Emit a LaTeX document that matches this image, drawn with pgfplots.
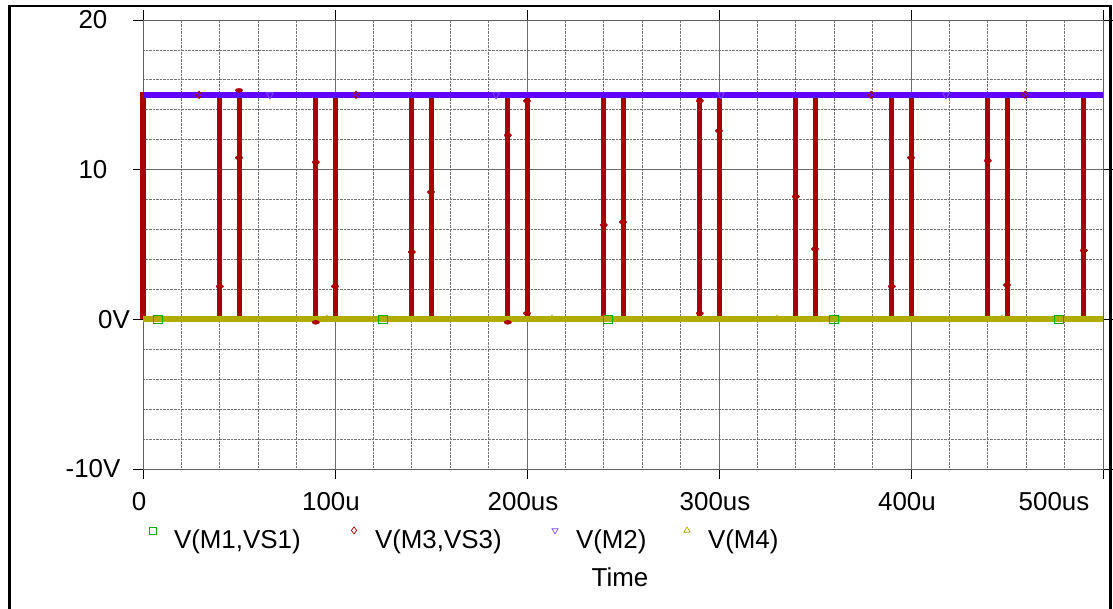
\documentclass[border=0pt]{standalone}
\usepackage{fontspec}
\setmainfont{Liberation Sans}
\usepackage{pgfplots}
\pgfplotsset{compat=1.18}
\definecolor{mred}{RGB}{170,0,0}
\definecolor{mblue}{RGB}{96,0,255}
\definecolor{mtri}{RGB}{120,70,255}
\definecolor{myel}{RGB}{176,172,0}
\definecolor{mgreen}{RGB}{0,170,0}
\begin{document}
\begin{tikzpicture}
\begin{axis}[
  at={(143bp,140bp)}, anchor=south west,
  scale only axis, width=960bp, height=449bp,
  xmin=0, xmax=500, ymin=-10, ymax=20,
  clip=false,
  axis line style={draw=gray!75!black, line width=0.9bp},
  xtick={0,100,200,300,400,500},
  xticklabels={0,100u,200us,300us,400u,{500us\hspace*{90bp}}},
  ytick={-10,0,10,20},
  yticklabels={-10V,{\hspace*{42bp}0V},10,20},
  minor x tick num=4, minor y tick num=4,
  grid=both,
  major grid style={draw=gray!85!black, line width=0.8bp},
  minor grid style={draw=gray!90!black, densely dotted, line width=0.8bp},
  tick align=outside, major tick length=10bp, minor tick length=0bp,
  tick style={draw=black, line width=0.8bp},
  tick label style={font=\fontsize{26}{30}\selectfont},
  xticklabel style={anchor=center, yshift=-23bp, xshift=-4bp},
  yticklabel style={anchor=center, xshift=-40bp},
  xlabel={Time},
  xlabel style={at={(axis description cs:0.5,-0.2405)}, anchor=center, xshift=-3bp, font=\fontsize{26}{30}\selectfont},
  legend columns=4,
  legend cell align=left,
  legend style={at={(axis description cs:0.00625,-0.129)}, anchor=north west,
    draw=none, fill=none, inner sep=0pt, outer sep=0pt,
    font=\fontsize{26}{30}\selectfont,
    nodes={inner sep=0pt},
    /tikz/every even column/.append style={column sep=0pt}},
  legend image code/.code={\path[draw=none] (-4bp,0bp) rectangle (21bp,0bp);
    \draw[#1] plot coordinates {(0bp,9bp)};},
]
% V(M1,VS1) line (hidden below V(M4))
\addplot[mgreen, line width=1bp, forget plot] coordinates {(0,0) (500,0)};
% V(M3,VS3)
\addplot[mred, line width=5bp, forget plot] coordinates {
(0,0)(0,15)
(40,15)(40,2.2)(40,0)
(50,0)(50,10.8)(50,15.2)(50,15)
(90,15)(90,10.5)(90,-0.15)(90,0)
(100,0)(100,2.2)(100,15)
(140,15)(140,4.5)(140,0)
(150,0)(150,8.5)(150,15)
(190,15)(190,12.3)(190,-0.2)(190,0)
(200,0)(200,0.4)(200,14.6)(200,15)
(240,15)(240,6.3)(240,0)
(250,0)(250,6.5)(250,15)
(290,15)(290,14.6)(290,0.4)(290,0)
(300,0)(300,12.6)(300,15)
(340,15)(340,8.2)(340,0)
(350,0)(350,4.7)(350,15)
(390,15)(390,2.2)(390,0)
(400,0)(400,10.8)(400,15)
(440,15)(440,10.6)(440,0)
(450,0)(450,2.3)(450,15)
(490,15)(490,4.6)(490,0)
(500,0)};
% V(M2)
\addplot[mblue, line width=6bp, forget plot] coordinates {(0,15) (500,15)};
% V(M4)
\addplot[myel, line width=6bp, forget plot] coordinates {(0,0) (500,0)};
% V(M3,VS3) intermediate transition points
\addplot[only marks, mark=*, mred, mark size=2.2bp, mark options={xscale=1.7, yscale=0.9}, forget plot] coordinates {
(40,2.2)(50,10.8)(50,15.3)(90,10.5)(90,-0.2)(100,2.2)(140,4.5)(150,8.5)
(190,12.3)(190,-0.2)(200,0.4)(200,14.6)(240,6.3)(250,6.5)(290,14.6)(290,0.4)
(300,12.6)(340,8.2)(350,4.7)(390,2.2)(400,10.8)(440,10.6)(450,2.3)(490,4.6)};
% markers
\addplot[only marks, mark=square, mgreen, mark size=4.2bp, line width=0.9bp, forget plot]
  coordinates {(7.8,0)(125,0)(242.2,0)(359.9,0)(477,0)};
\addplot[only marks, mark=diamond, mred, mark size=3.6bp, line width=0.9bp, forget plot]
  coordinates {(29.2,15)(110.9,15)(379.2,15)(459.4,15)};
\addplot[only marks, mark=triangle, mark options={rotate=180}, mtri, mark size=4bp, line width=0.9bp, forget plot]
  coordinates {(66.1,15)(183.9,15)(301,15)(418.2,15)};
\addplot[only marks, mark=triangle, myel, mark size=4bp, line width=0.9bp, forget plot]
  coordinates {(95.8,0)(213,0)(330.2,0)(447.4,0)};
% legend
\addlegendimage{only marks, mark=square, mgreen, mark size=3.5bp, line width=0.7bp}
\addlegendentry{\makebox[176bp][l]{V(M1,VS1)}}
\addlegendimage{only marks, mark=diamond, mred, mark size=3.5bp, line width=0.7bp}
\addlegendentry{\makebox[176bp][l]{V(M3,VS3)}}
\addlegendimage{only marks, mark=triangle, mark options={rotate=180}, mtri, mark size=3.5bp, line width=0.7bp}
\addlegendentry{\makebox[107bp][l]{V(M2)}}
\addlegendimage{only marks, mark=triangle, myel, mark size=3.5bp, line width=0.7bp}
\addlegendentry{V(M4)}
\end{axis}
\draw[line width=2.6bp] (9.5bp,-20bp) -- (9.5bp,603bp) -- (1110.5bp,603bp) -- (1110.5bp,-20bp);
\pgfresetboundingbox
\useasboundingbox (0,0) rectangle (1113bp,609bp);
\end{tikzpicture}
\end{document}
